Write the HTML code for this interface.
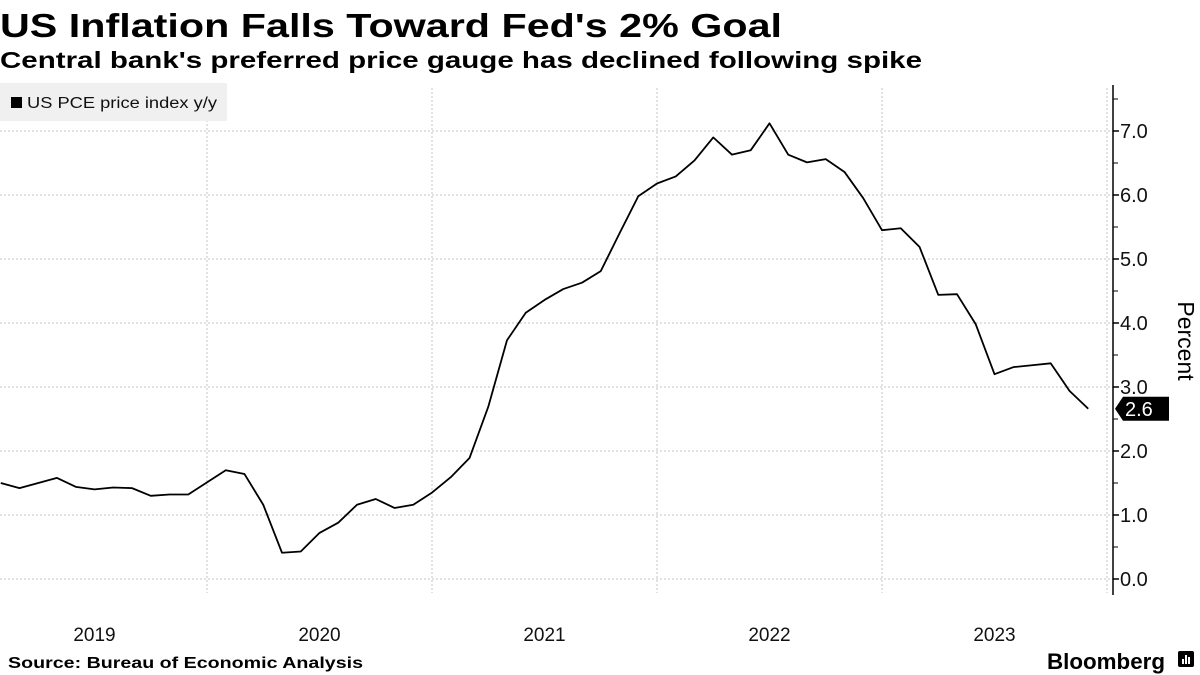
<!DOCTYPE html>
<html><head><meta charset="utf-8"><style>
body{margin:0;background:#fff;}
svg{display:block;font-family:"Liberation Sans","DejaVu Sans",sans-serif;}
</style></head><body>
<svg id="chart" width="1200" height="675" viewBox="0 0 1200 675">
<text x="0" y="37" font-size="33" font-weight="bold" textLength="782" lengthAdjust="spacingAndGlyphs">US Inflation Falls Toward Fed's 2% Goal</text>
<text x="0" y="68" font-size="23" font-weight="bold" textLength="922" lengthAdjust="spacingAndGlyphs">Central bank's preferred price gauge has declined following spike</text>
<g id="grid"></g>
<g id="axes"></g>
<g id="series"></g>
<g>
<rect x="0" y="83" width="227" height="38" fill="#f0f0f0"/>
<rect x="11" y="97" width="11" height="11" fill="#000"/>
<text x="27" y="108" font-size="15.5" fill="#111" textLength="190" lengthAdjust="spacingAndGlyphs">US PCE price index y/y</text>
</g>
<text transform="translate(1178,341) rotate(90)" font-size="23" text-anchor="middle">Percent</text>
<text x="8" y="668" font-size="16" font-weight="bold" textLength="355" lengthAdjust="spacingAndGlyphs">Source: Bureau of Economic Analysis</text>
<text x="1047" y="669" font-size="22" font-weight="bold" textLength="118" lengthAdjust="spacingAndGlyphs">Bloomberg</text>
<g>
<rect x="1178" y="651" width="16" height="16" rx="2" fill="#000"/>
<rect x="1182" y="659" width="2" height="5" fill="#fff"/><rect x="1185" y="655" width="2" height="9" fill="#fff"/><rect x="1188" y="657" width="2" height="7" fill="#fff"/>
</g>
</svg>
<script>
const yTicks=[0,1,2,3,4,5,6,7];
const yTickLabels=["0.0","1.0","2.0","3.0","4.0","5.0","6.0","7.0"];
const years=[2019,2020,2021,2022,2023];
const pce=[1.50,1.42,1.50,1.58,1.44,1.40,1.43,1.42,1.30,1.32,1.32,1.51,
1.70,1.64,1.16,0.41,0.43,0.72,0.88,1.16,1.25,1.11,1.16,1.35,
1.59,1.89,2.69,3.73,4.16,4.36,4.53,4.63,4.81,5.40,5.98,6.18,
6.29,6.54,6.90,6.63,6.70,7.12,6.63,6.51,6.56,6.36,5.95,5.45,
5.48,5.19,4.44,4.45,3.98,3.20,3.31,3.34,3.37,2.94,2.66];
const lastLabel="2.6";
const NS="http://www.w3.org/2000/svg";
const plotLeft=0,axisX=1113,yTop=85,yBot=595;
function y(v){return 579-v*64;}
function xMonth(i){return 207+(i-11)*18.75;}
function xYearStart(yr){return 207+(yr-2020)*225;}
function mk(tag,attrs,parent){const e=document.createElementNS(NS,tag);for(const k in attrs)e.setAttribute(k,attrs[k]);parent.appendChild(e);return e;}
const grid=document.getElementById('grid'),axes=document.getElementById('axes'),series=document.getElementById('series');
yTicks.forEach((v,i)=>{
 const l=mk('line',{x1:plotLeft,x2:axisX,y1:y(v),y2:y(v),stroke:'#c4c4c4','stroke-dasharray':'2,2','stroke-width':1},grid);
 
 
 const t=mk('line',{x1:axisX,x2:axisX+6,y1:y(v),y2:y(v),stroke:'#000','stroke-width':1.5},axes);
 
 
 const m=mk('line',{x1:axisX,x2:axisX+5,y1:y(v+0.5),y2:y(v+0.5),stroke:'#000','stroke-width':1},axes);
 
 
 const tx=mk('text',{x:axisX+7,y:y(v)+7,'font-size':20,fill:'#111'},axes);
 tx.textContent=yTickLabels[i];
 
 
});
years.concat([2024]).forEach(yr=>{
 const gx=xYearStart(yr);
 if(gx>0&&gx<axisX){
  const l=mk('line',{x1:gx,x2:gx,y1:88,y2:593,stroke:'#c4c4c4','stroke-dasharray':'2,2','stroke-width':1},grid);
  
  
 }
});
years.forEach(yr=>{
 const t=mk('text',{x:xYearStart(yr)+112.5,y:641,'font-size':19,'text-anchor':'middle',fill:'#111'},axes);
 t.textContent=yr;
 
 
});
const ax=mk('line',{x1:axisX,x2:axisX,y1:yTop,y2:yBot,stroke:'#000','stroke-width':1.5},axes);


const pts=pce.map((v,i)=>xMonth(i).toFixed(2)+','+y(v).toFixed(2)).join(' ');
const pl=mk('polyline',{points:pts,fill:'none',stroke:'#000','stroke-width':1.8,'stroke-linejoin':'round'},series);


const lv=pce[pce.length-1],ly=y(lv);
const tag=mk('path',{d:`M${axisX+2},${ly} L${axisX+10},${ly-12} L${axisX+56},${ly-12} L${axisX+56},${ly+12} L${axisX+10},${ly+12} Z`,fill:'#000'},axes);


const tt=mk('text',{x:axisX+12,y:ly+7,'font-size':20,fill:'#fff'},axes);
tt.textContent=lastLabel;


</script>
</body></html>
